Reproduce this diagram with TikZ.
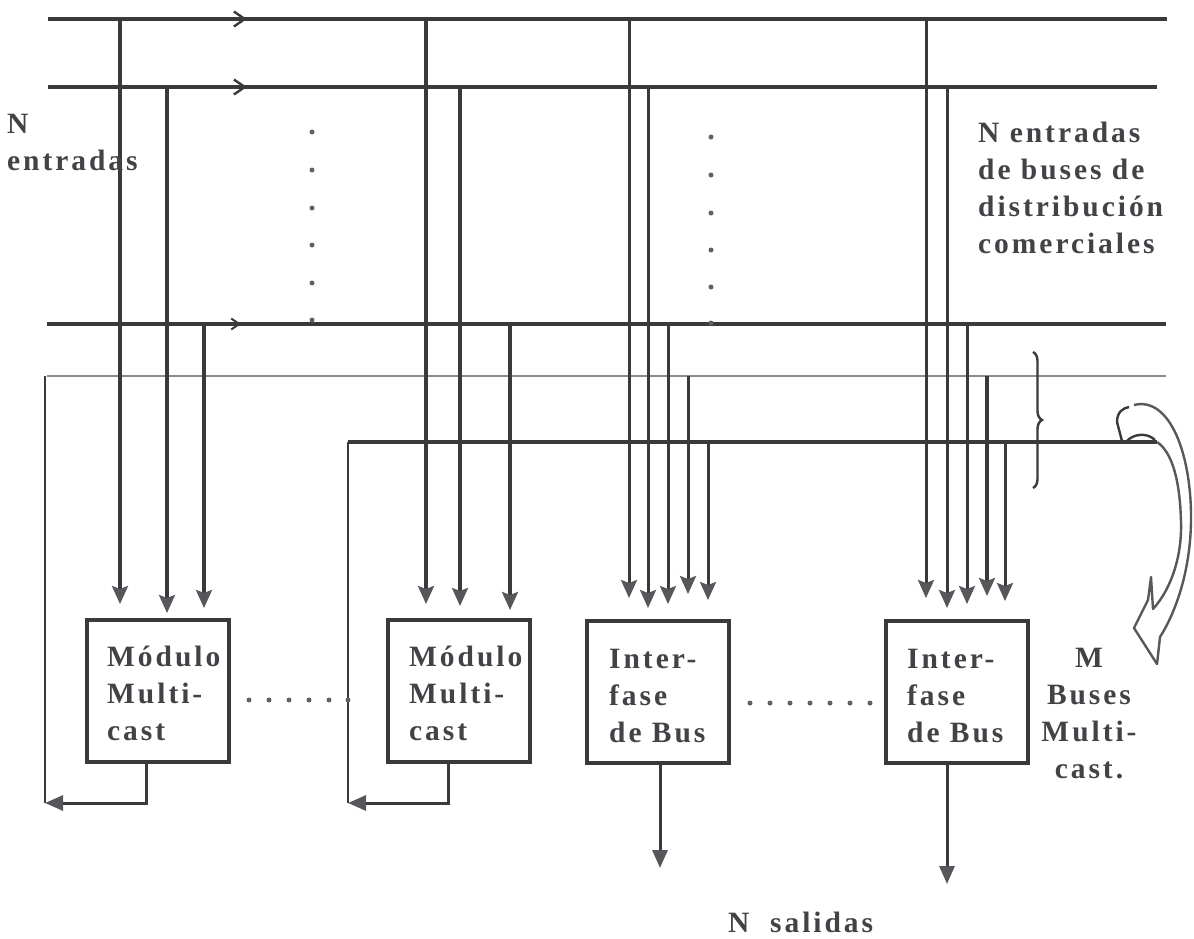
\documentclass[tikz,border=0pt]{standalone}
\usepackage{fontspec}
\setmainfont{Liberation Serif}
\newfontfamily\labfont[LetterSpace=10]{Liberation Serif}
\usetikzlibrary{arrows.meta,decorations.pathreplacing,calc}
\definecolor{ink}{HTML}{3A3A3C}
\definecolor{inklight}{HTML}{8C8C8E}
\definecolor{txt}{HTML}{444247}
\definecolor{headc}{HTML}{58565B}

\begin{document}
\begin{tikzpicture}[x=1pt,y=-1pt,
  bus/.style={draw=ink,line width=3.8pt},
  thinbus/.style={draw=inklight,line width=2.8pt},
  busarrow/.style={-{Straight Barb[length=11pt,width=15pt,line width=2.4pt]}},
  vin/.style={draw=ink,line width=3.2pt,-{Stealth[length=18pt,width=16pt,inset=3pt,color=headc]}},
  vthin/.style={draw=ink,line width=3pt,-{Stealth[length=18pt,width=16pt,inset=3pt,color=headc]}},
  vout/.style={draw=ink,line width=3pt,-{Triangle[length=18pt,width=15pt,color=headc]}},
  box/.style={draw=ink,line width=3.6pt,minimum width=142pt,minimum height=142pt,inner sep=0pt},
  lab/.style={text=txt,font=\labfont\bfseries\fontsize{29.5}{37}\selectfont,align=left,inner sep=0pt},
  dot/.style={fill=ink!80,circle,inner sep=0pt,minimum size=5pt},
]
\useasboundingbox (0,0) rectangle (1194,938);

% bus levels
\def\ya{19}\def\yb{87}\def\yc{324}\def\yd{376}\def\ye{442}

% distribution buses with their direction arrows
\draw[bus] (48,\ya) -- (1167,\ya);
\draw[bus] (48,\yb) -- (1157,\yb);
\draw[bus] (47,\yc) -- (1166,\yc);
\draw[bus,busarrow] (48,\ya) -- (247,\ya);
\draw[bus,busarrow] (48,\yb) -- (247,\yb);
\draw[draw=ink,line width=2pt,-{Straight Barb[length=8pt,width=11pt,line width=2pt]}] (200,\yc) -- (241,\yc);
% multicast buses
\draw[thinbus] (47,\yd) -- (1166,\yd);
\draw[bus] (348,\ye) -- (1157,\ye);

% modules
\node[box] (m1) at (158,691) {};
\node[box] (m2) at (459,691) {};
\node[box] (i1) at (658,692) {};
\node[box] (i2) at (957,692) {};

\node[lab,anchor=base west] (tm1) at (107,740) {Módulo\\Multi-\\cast};
\node[lab,anchor=base west] (tm2) at (409,740) {Módulo\\Multi-\\cast};
\node[lab,anchor=base west] (ti1) at (609,742) {Inter-\\fase\\de Bus};
\node[lab,anchor=base west] (ti2) at (907,742) {Inter-\\fase\\de Bus};

% taps into the multicast modules
\draw[vin] (120,\ya) -- (120,604);
\draw[vin] (167,\yb) -- (167,613);
\draw[vin] (204,\yc) -- (204,608);
\draw[vin] (426,\ya) -- (426,604);
\draw[vin] (460,\yb) -- (460,606);
\draw[vin] (510,\yc) -- (510,610);

% taps into the bus interfaces
\draw[vthin] (629,\ya) -- (629,598);
\draw[vthin] (648,\yb) -- (648,608);
\draw[vthin] (668,\yc) -- (668,604);
\draw[vthin] (688,\yd) -- (688,594);
\draw[vthin] (708,\ye) -- (708,600);
\draw[vthin] (926,\ya) -- (926,598);
\draw[vthin] (947,\yb) -- (947,608);
\draw[vthin] (967,\yc) -- (967,604);
\draw[vin] (987,\yd) -- (987,596);
\draw[vthin] (1005,\ye) -- (1005,601);

% multicast feedback paths
\coordinate (r1) at (45,803);
\coordinate (r2) at (348,803);
\draw[draw=ink,line width=2.6pt] (r1) -- (45,\yd);
\draw[draw=ink,line width=2.6pt] (r2) -- (348,\ye);
\draw[vout] ($(m1.south west)+(61,0)$) |- (r1);
\draw[vout] ($(m2.south west)+(62,0)$) |- (r2);

% outputs
\coordinate (o1) at (660,868);
\coordinate (o2) at (947,884);
\draw[vout] (i1.south -| o1) -- (o1);
\draw[vout] (i2.south -| o2) -- (o2);

% ellipsis dots
\foreach \y in {132,170,208,245,283,320} \node[dot] at (312,\y) {};
\foreach \y in {137,175,213,250,287,323} \node[dot] at (711,\y) {};
\foreach \x in {249,269,289,309,329,348} \node[dot] at (\x,700) {};
\foreach \x in {750,770,790,810,830,850,870} \node[dot] at (\x,703) {};

% brace over the multicast buses
\draw[draw=ink,line width=2.4pt,decorate,decoration={brace,amplitude=9pt}] (1033,352) -- (1033,488);

% hollow curved arrow
\draw[draw=ink!85,line width=2.4pt,line join=round]
  (1134,405) .. controls (1170,396) and (1192,455) .. (1191,522)
  .. controls (1190,575) and (1174,615) .. (1160,637)
  -- (1157,664) -- (1134,628) -- (1148,600) -- (1151,577) -- (1153,609)
  .. controls (1172,588) and (1182,555) .. (1181,522)
  .. controls (1180,480) and (1172,452) .. (1157,442);
\draw[draw=ink,line width=2.4pt] (1122,441) -- (1117,422) .. controls (1117,412) and (1123,408) .. (1129,407);
\draw[draw=ink,line width=2.4pt] (1127,441) .. controls (1133,434) and (1147,432) .. (1155,440);

% labels
\node[lab,anchor=base west] (nin) at (7,170) {N\\entradas};
\node[lab,anchor=base west] (nbus) at (978,253) {N entradas\\de buses de\\distribución\\comerciales};
\node[lab,anchor=base,align=center] (mbus) at (1089,778) {M\\Buses\\Multi-\\cast.};
\node[lab,anchor=base west] (nout) at (728,932) {N\ \ salidas};
\end{tikzpicture}
\end{document}
